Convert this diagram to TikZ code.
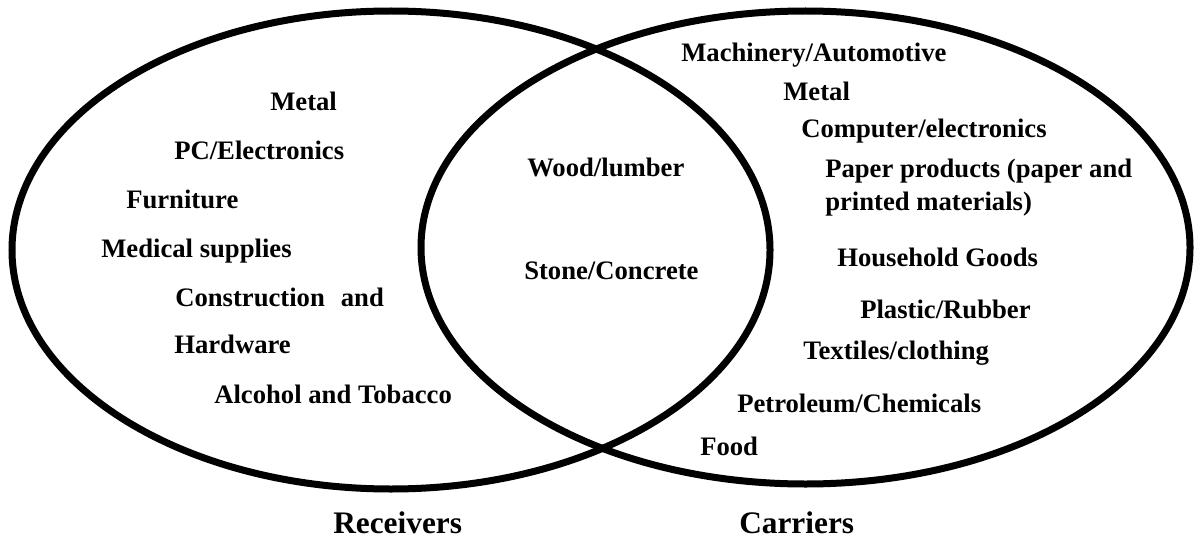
\documentclass[tikz,border=0pt]{standalone}
\usepackage{fontspec}
\setmainfont{Liberation Serif}
\usetikzlibrary{shapes.geometric}
\tikzset{
  venn/.style={ellipse, draw=black, line width=5.25pt, inner sep=0pt, outer sep=0pt},
  item/.style={anchor=west, inner sep=0pt, font=\fontsize{20}{23}\selectfont\bfseries, text height=13.2pt, text depth=0pt},
  setlabel/.style={anchor=west, inner sep=0pt, font=\fontsize{23.5}{27}\selectfont\bfseries, text height=15.5pt, text depth=0pt}
}
\begin{document}
\begin{tikzpicture}[x=0.75pt, y=-0.75pt]
\useasboundingbox (0,0) rectangle (1195,542);
\node[venn, minimum width=758*0.75pt, minimum height=478*0.75pt] (recv) at (391,250) {};
\node[venn, minimum width=769*0.75pt, minimum height=473*0.75pt] (carr) at (805.5,247.5) {};
% Receivers only
\node[item] (r1) at (270,102) {Metal};
\node[item] (r2) at (174,151) {PC/Electronics};
\node[item] (r3) at (126,200) {Furniture};
\node[item] (r4) at (101,249) {Medical supplies};
\node[item] (r5) at (175,298) {Construction\hspace{0.35em} and};
\node[item] (r6) at (174,345) {Hardware};
\node[item] (r7) at (214,395) {Alcohol and Tobacco};
% Both
\node[item] (b1) at (527,168) {Wood/lumber};
\node[item] (b2) at (524,271) {Stone/Concrete};
% Carriers only
\node[item] (c1) at (681,53) {Machinery/Automotive};
\node[item] (c2) at (783,92) {Metal};
\node[item] (c3) at (801,129) {Computer/electronics};
\node[item] (c4) at (825,169) {Paper products (paper and};
\node[item] (c5) at (825,202) {printed materials)};
\node[item] (c6) at (837,258) {Household Goods};
\node[item] (c7) at (860,310) {Plastic/Rubber};
\node[item] (c8) at (803,351) {Textiles/clothing};
\node[item] (c9) at (737,404) {Petroleum/Chemicals};
\node[item] (c10) at (700,447) {Food};
% Set labels
\node[setlabel] (lr) at (333,523) {Receivers};
\node[setlabel] (lc) at (739,523) {Carriers};
\end{tikzpicture}
\end{document}
